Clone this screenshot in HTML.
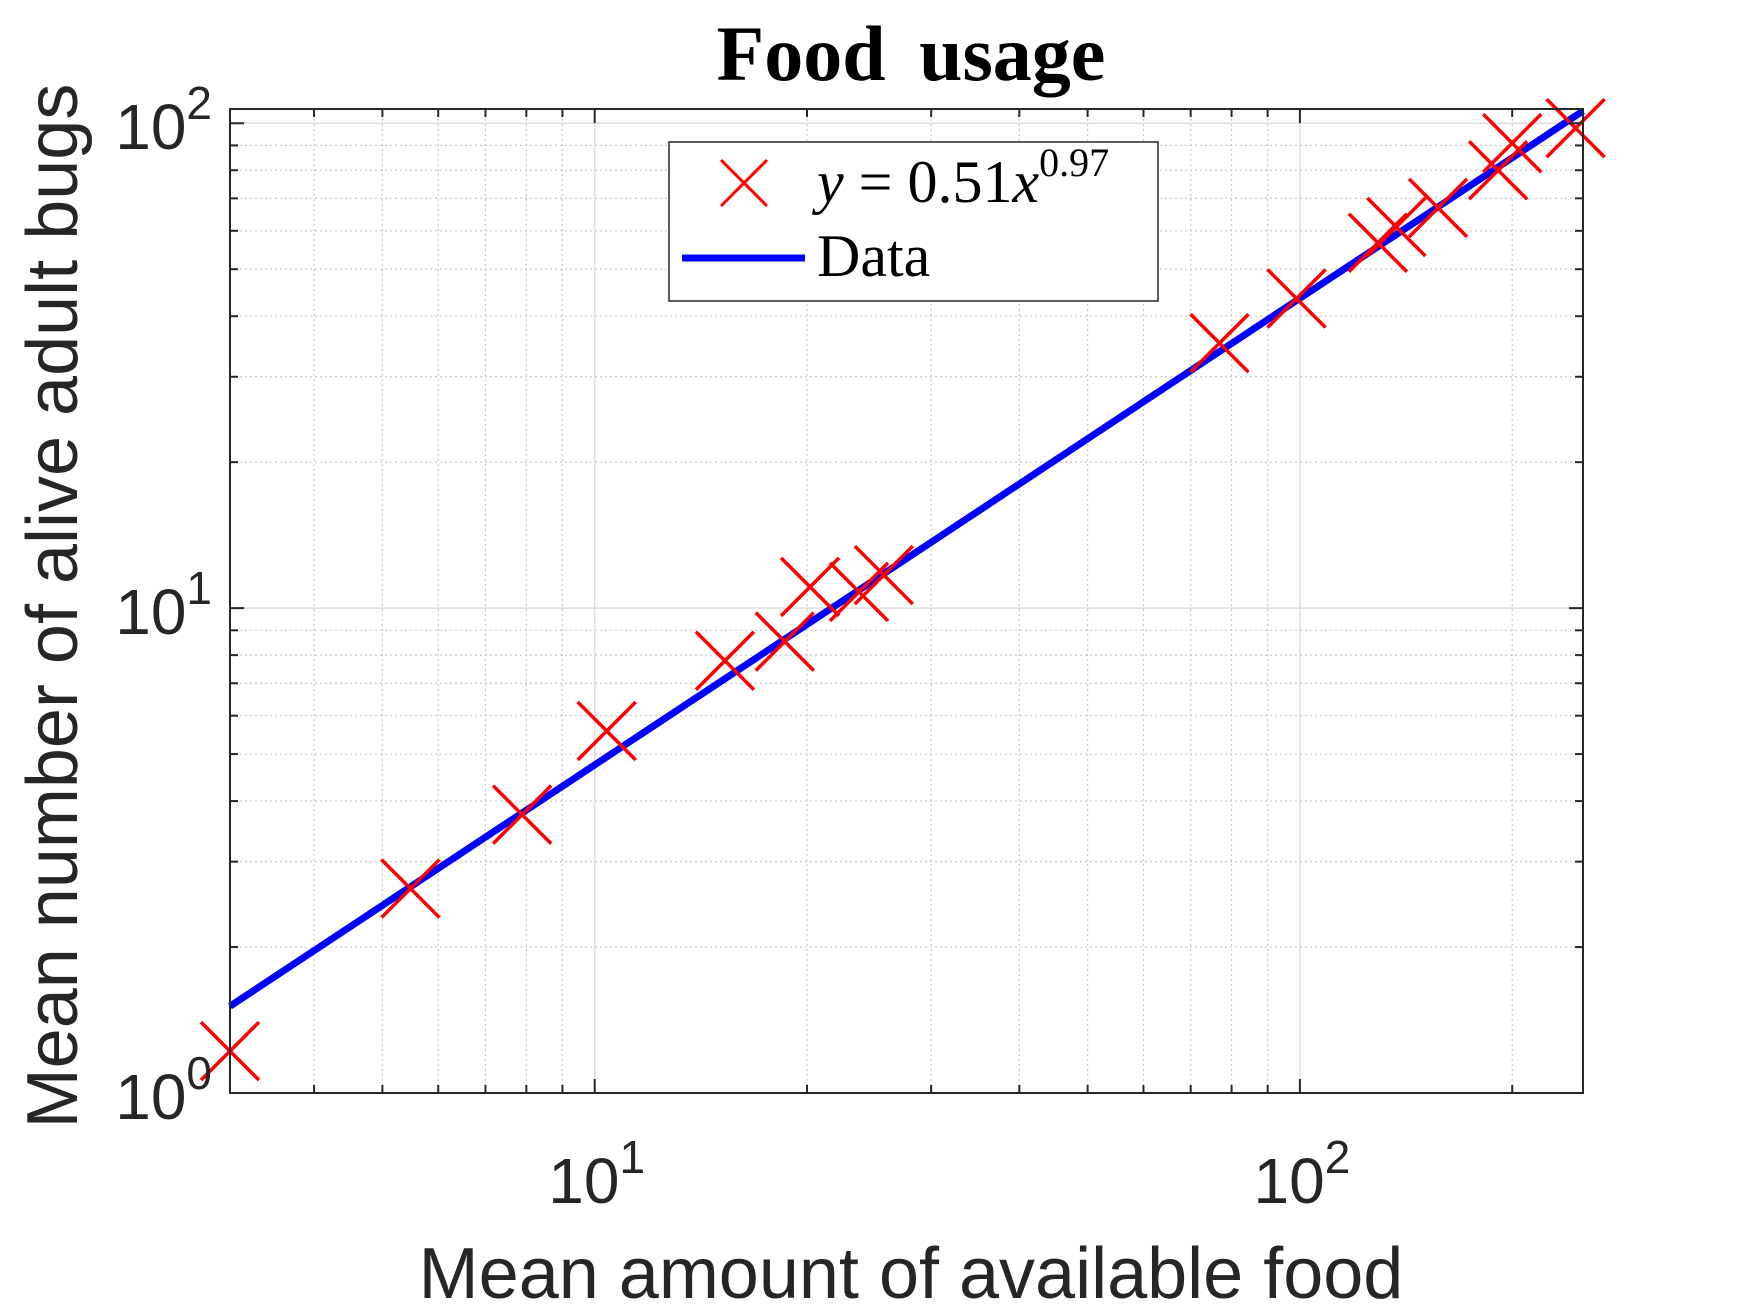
<!DOCTYPE html>
<html><head><meta charset="utf-8"><style>
html,body{margin:0;padding:0;background:#fff;}
svg{display:block;}
</style></head><body>
<svg id="chart" width="1750" height="1313" viewBox="0 0 1750 1313" xmlns="http://www.w3.org/2000/svg">
<rect x="0" y="0" width="1750" height="1313" fill="#fff"/>
<g id="grid"></g>
<g id="series"></g>
<rect x="230" y="109" width="1353" height="984" fill="none" stroke="#262626" stroke-width="2"/>
<g id="ticks"></g>
<text x="911" y="80" text-anchor="middle" font-family="Liberation Serif, serif" font-weight="bold" font-size="78" word-spacing="14" fill="#000">Food usage</text>
<text x="911" y="1298" text-anchor="middle" font-family="Liberation Sans, sans-serif" font-size="72" fill="#262626">Mean amount of available food</text>
<text transform="translate(77,606) rotate(-90)" text-anchor="middle" font-family="Liberation Sans, sans-serif" font-size="72" fill="#262626">Mean number of alive adult bugs</text>
<g>
<rect x="669" y="142" width="489" height="159" fill="#fff" stroke="#262626" stroke-width="1.5"/>
<g stroke="#ff0000" stroke-width="3">
<line x1="721" y1="160" x2="767" y2="206"/><line x1="721" y1="206" x2="767" y2="160"/>
</g>
<text x="817" y="202" font-family="Liberation Serif, serif" font-size="60" fill="#000"><tspan font-style="italic">y</tspan> = 0.51<tspan font-style="italic">x</tspan><tspan dy="-26" font-size="40">0.97</tspan></text>
<line x1="682" y1="258" x2="805" y2="258" stroke="#0000ff" stroke-width="7"/>
<text x="817" y="276" font-family="Liberation Serif, serif" font-size="60" fill="#000">Data</text>
</g>
</svg>
<script>
const xValues = [3.04, 5.48, 7.89, 10.4, 15.3, 18.6, 20.2, 23.7, 25.7, 76.9, 98.9, 129, 137, 157, 191, 200, 246];
const yValues = [1.22, 2.64, 3.75, 5.58, 7.79, 8.53, 11.06, 10.8, 11.7, 35.2, 43.5, 56.7, 61.1, 66.9, 80.0, 91.0, 97.7];
const lineX = [3.04, 252];
const lineY = [1.51, 106];
const xTickLabels = ["1", "2"];
const yTickLabels = ["0", "1", "2"];

const L = 230, R = 1583, T = 109, B = 1093;
const XMIN = Math.log10(3.04), XMAX = Math.log10(252);
const YMIN = 0, YMAX = Math.log10(107);
function sx(v){ return L + (Math.log10(v) - XMIN) / (XMAX - XMIN) * (R - L); }
function sy(v){ return B - (Math.log10(v) - YMIN) / (YMAX - YMIN) * (B - T); }
const NS = "http://www.w3.org/2000/svg";
function mk(tag, attrs, parent){
  const e = document.createElementNS(NS, tag);
  for (const k in attrs) e.setAttribute(k, attrs[k]);
  parent.appendChild(e);
  return e;
}
const grid = document.getElementById('grid');
const ticks = document.getElementById('ticks');
const series = document.getElementById('series');

for (let d = 0; d <= 2; d++) {
  for (let m = 1; m <= 9; m++) {
    const v = m * Math.pow(10, d);
    if (v < 3.03 || v > 252) continue;
    const x = sx(v);
    const major = (m === 1);
    const g = mk('line', {x1:x, y1:T, x2:x, y2:B, stroke: major ? '#dedede' : '#c8c8c8', 'stroke-width': major ? 1.5 : 1.2, 'stroke-dasharray': major ? '' : '2,3'}, grid);
    
    
    const len = major ? 14 : 8;
    const t1 = mk('line', {x1:x, y1:B, x2:x, y2:B-len, stroke:'#262626', 'stroke-width':2}, ticks);
    
    
    const t2 = mk('line', {x1:x, y1:T, x2:x, y2:T+len, stroke:'#262626', 'stroke-width':2}, ticks);
    
    
  }
}
for (let d = 0; d <= 2; d++) {
  for (let m = 1; m <= 9; m++) {
    const v = m * Math.pow(10, d);
    if (v > 107) continue;
    const y = sy(v);
    const major = (m === 1);
    const g = mk('line', {x1:L, y1:y, x2:R, y2:y, stroke: major ? '#dedede' : '#c8c8c8', 'stroke-width': major ? 1.5 : 1.2, 'stroke-dasharray': major ? '' : '2,3'}, grid);
    
    
    const len = major ? 14 : 8;
    const t1 = mk('line', {x1:L, y1:y, x2:L+len, y2:y, stroke:'#262626', 'stroke-width':2}, ticks);
    
    
    const t2 = mk('line', {x1:R, y1:y, x2:R-len, y2:y, stroke:'#262626', 'stroke-width':2}, ticks);
    
    
  }
}
xTickLabels.forEach(function(p){
  const x = sx(Math.pow(10, +p));
  const t = mk('text', {x: x + 2, y: 1203, 'text-anchor':'middle', 'font-family':'Liberation Sans, sans-serif', 'font-size':64, fill:'#262626'}, ticks);
  
  
  t.textContent = '10';
  const s = mk('tspan', {dy:-30, 'font-size':46}, t);
  s.textContent = p;
});
yTickLabels.forEach(function(p){
  const y = sy(Math.pow(10, +p));
  const t = mk('text', {x: 212, y: y + 26, 'text-anchor':'end', 'font-family':'Liberation Sans, sans-serif', 'font-size':64, fill:'#262626'}, ticks);
  
  
  t.textContent = '10';
  const s = mk('tspan', {dy:-30, 'font-size':46}, t);
  s.textContent = p;
});
const ln = mk('line', {x1: sx(lineX[0]), y1: sy(lineY[0]), x2: sx(lineX[1]), y2: sy(lineY[1]), stroke:'#0000ff', 'stroke-width':7}, series);


const h = 29;
xValues.forEach(function(xv, i){
  const cx = sx(xv), cy = sy(yValues[i]);
  const g = mk('g', {stroke:'#ff0000', 'stroke-width':3.5}, series);
  
  
  mk('line', {x1:cx-h, y1:cy-h, x2:cx+h, y2:cy+h}, g);
  mk('line', {x1:cx-h, y1:cy+h, x2:cx+h, y2:cy-h}, g);
});
</script>
</body></html>
